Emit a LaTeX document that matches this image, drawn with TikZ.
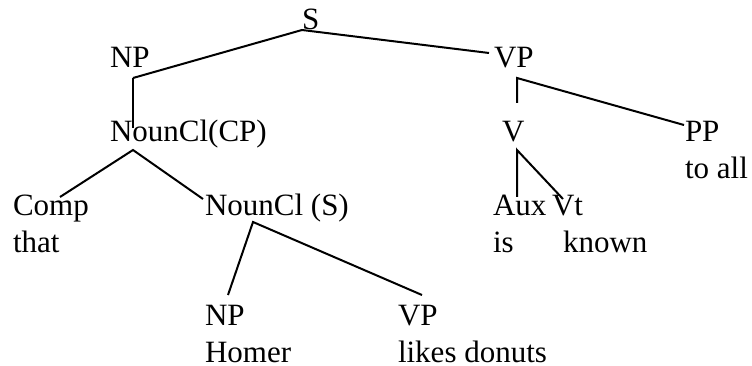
\documentclass[tikz,border=0pt]{standalone}
\usepackage{fontspec}
\setmainfont{Liberation Serif}
\begin{document}
\begin{tikzpicture}[x=1pt,y=-1pt,
  lab/.style={anchor=base west,inner sep=0pt,outer sep=0pt,font=\fontsize{31}{37}\selectfont},
  edge/.style={line width=2pt,line cap=butt}]
\useasboundingbox (0,0) rectangle (752,366);
% labels
\node[lab] (s) at (302,30) {S};
\node[lab] (np1) at (110,68) {NP};
\node[lab] (vp1) at (494,68) {VP};
\node[lab] (ncp) at (110,142) {NounCl(CP)};
\node[lab] (v) at (502,142) {V};
\node[lab] (pp) at (685,142) {PP};
\node[lab] (toall) at (685,179) {to all};
\node[lab] (comp) at (13,215) {Comp};
\node[lab] (that) at (13,252) {that};
\node[lab] (ncs) at (205,215) {NounCl (S)};
\node[lab] (aux) at (493,215) {Aux};
\node[lab] (is) at (493,252) {is};
\node[lab] (vt) at (552,215) {Vt};
\node[lab] (known) at (563,252) {known};
\node[lab] (np2) at (205,325) {NP};
\node[lab,text depth=0pt] (homer) at (205,362) {Homer};
\node[lab] (vp2) at (398,325) {VP};
\node[lab,text depth=0pt] (likes) at (398,362) {likes donuts};
% connector end points
\coordinate (sB) at (302,30);
\coordinate (np1T) at (133,78);
\coordinate (vp1T) at (489,53);
\coordinate (ncpT) at (133,128);
\coordinate (ncpB) at (133,150);
\coordinate (compT) at (60,197);
\coordinate (ncsT) at (203,199);
\coordinate (vp1B) at (517,78);
\coordinate (vT) at (517,103);
\coordinate (ppT) at (684,125);
\coordinate (vB) at (517,150);
\coordinate (auxT) at (517,197);
\coordinate (vtT) at (563,199);
\coordinate (ncsB) at (253,222);
\coordinate (np2T) at (228,295);
\coordinate (vp2T) at (422,295);
% connectors
\draw[edge] (np1T) -- (sB) -- (vp1T);
\draw[edge] (np1T) -- (ncpT);
\draw[edge] (compT) -- (ncpB) -- (ncsT);
\draw[edge] (vT) -- (vp1B) -- (ppT);
\draw[edge] (auxT) -- (vB) -- (vtT);
\draw[edge] (np2T) -- (ncsB) -- (vp2T);
\end{tikzpicture}
\end{document}
